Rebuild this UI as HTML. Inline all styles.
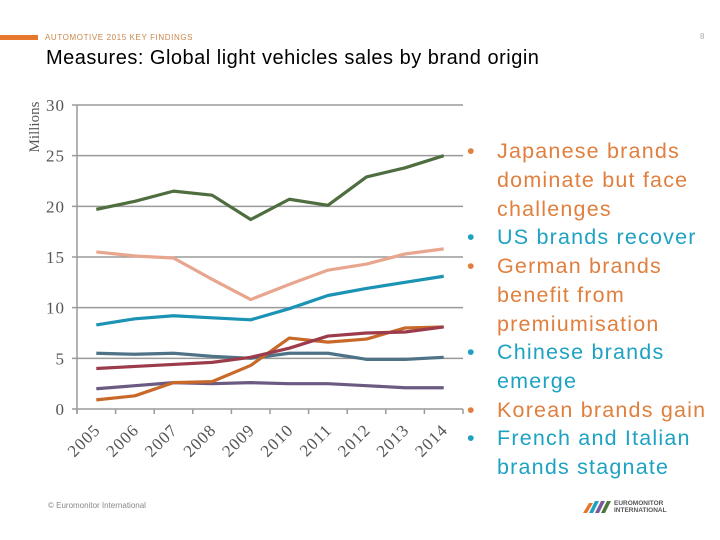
<!DOCTYPE html>
<html><head><meta charset="utf-8"><style>
body{margin:0;width:720px;height:540px;background:#fff;overflow:hidden;position:relative;font-family:"Liberation Sans",sans-serif}
.abs{position:absolute}
.bl{position:absolute;left:467px;font-size:21.5px;line-height:28.8px;white-space:nowrap;letter-spacing:1.2px}
.bl span.b{position:absolute;left:0}
.bl span.t{position:absolute;left:30px}
.o{color:#e07f3e}.c{color:#1ea2c2}
</style></head><body>
<div class="abs" style="left:0;top:35px;width:38px;height:5px;background:#e8772e"></div>
<div class="abs" style="left:45px;top:33px;font-size:8px;color:#c8874a;letter-spacing:0.6px">AUTOMOTIVE 2015 KEY FINDINGS</div>
<div class="abs" style="left:700px;top:32px;font-size:8px;color:#aaa">8</div>
<div class="abs" style="left:46px;top:47px;font-size:20px;letter-spacing:0.5px;color:#000">Measures: Global light vehicles sales by brand origin</div>
<svg class="abs" style="left:0;top:0" width="470" height="480" id="chart"></svg>
<div class="bl o" style="top:137px"><span class="b">•</span><span class="t">Japanese brands<br>dominate but face<br>challenges</span></div>
<div class="bl c" style="top:223px"><span class="b">•</span><span class="t">US brands recover</span></div>
<div class="bl o" style="top:252px"><span class="b">•</span><span class="t">German brands<br>benefit from<br>premiumisation</span></div>
<div class="bl c" style="top:338px"><span class="b">•</span><span class="t">Chinese brands<br>emerge</span></div>
<div class="bl o" style="top:396px"><span class="b">•</span><span class="t">Korean brands gain</span></div>
<div class="bl c" style="top:424px"><span class="b">•</span><span class="t">French and Italian<br>brands stagnate</span></div>
<div class="abs" style="left:48px;top:501px;font-size:8px;color:#888">© Euromonitor International</div>
<div class="abs" style="left:583px;top:500px;width:100px;height:14px">
<svg width="30" height="12" style="position:absolute;left:0;top:1px"><polygon points="0,12 6,2 10,2 4,12" fill="#e8772e"/><polygon points="6,12 12,0 16,0 10,12" fill="#1ea2c2"/><polygon points="12,12 18,0 22,0 16,12" fill="#7a5a9a"/><polygon points="18,12 24,0 28,0 22,12" fill="#4a7a3a"/></svg>
<div style="position:absolute;left:31px;top:0;font-size:6.5px;line-height:7px;color:#555;font-weight:bold">EUROMONITOR<br>INTERNATIONAL</div></div>
<script>
const years=["2005","2006","2007","2008","2009","2010","2011","2012","2013","2014"];
const yTicks=[0,5,10,15,20,25,30];
const japan=[19.7,20.5,21.5,21.1,18.7,20.7,20.1,22.9,23.8,25.0];
const germany=[15.5,15.1,14.9,12.8,10.8,12.3,13.7,14.3,15.3,15.8];
const usa=[8.3,8.9,9.2,9.0,8.8,9.9,11.2,11.9,12.5,13.1];
const france=[5.5,5.4,5.5,5.2,5.0,5.5,5.5,4.9,4.9,5.1];
const korea=[4.0,4.2,4.4,4.6,5.1,6.0,7.2,7.5,7.6,8.1];
const china=[0.9,1.3,2.6,2.7,4.3,7.0,6.6,6.9,8.0,8.1];
const other=[2.0,2.3,2.6,2.5,2.6,2.5,2.5,2.3,2.1,2.1];
const series=[[france,"#4e7386","series-french-italian"],[other,"#6b5a82","series-other"],[china,"#c8692a","series-chinese"],[korea,"#9b3b4c","series-korean"],[usa,"#1b93b4","series-us"],[germany,"#e9a68e","series-german"],[japan,"#4f6e40","series-japanese"]];
const L=77,R=463,T=105,B=409,yMax=30;
const sx=i=>L+(R-L)/years.length*(i+0.5);
const sy=v=>B-(B-T)*v/yMax;
const svg=document.getElementById('chart');const NS="http://www.w3.org/2000/svg";
function mk(t,a){const e=document.createElementNS(NS,t);for(const k in a)e.setAttribute(k,a[k]);svg.appendChild(e);return e;}
yTicks.forEach(v=>{
 const g=mk('line',{x1:L-5,x2:R,y1:sy(v),y2:sy(v),stroke:'#9a9a9a','stroke-width':1.5});
 
 
 const t=mk('text',{x:L-12,y:sy(v)+6,'text-anchor':'end','font-family':'Liberation Serif, serif','font-size':17,'letter-spacing':1,fill:'#555'});t.textContent=v;
 
 
});
const ax=mk('line',{x1:L,x2:L,y1:T,y2:B+5,stroke:'#9a9a9a','stroke-width':1.5});


for(let i=0;i<=years.length;i++){const x=L+(R-L)/years.length*i;const tk=mk('line',{x1:x,x2:x,y1:B,y2:B+5,stroke:'#9a9a9a','stroke-width':1.5});
 
 }
years.forEach((y,i)=>{const x=sx(i)+5,yy=B+22;
 const t=mk('text',{x:x,y:yy,'text-anchor':'end','font-family':'Liberation Serif, serif','font-size':17,'letter-spacing':1,fill:'#555',transform:`rotate(-45 ${x} ${yy})`});t.textContent=y;
 
 });
const yl=mk('text',{x:39,y:127,'text-anchor':'middle','font-family':'Liberation Serif, serif','font-size':15,fill:'#555',transform:'rotate(-90 39 127)'});yl.textContent='Millions';


series.forEach(([d,c,n])=>{const p=mk('polyline',{points:d.map((v,i)=>sx(i)+','+sy(v)).join(' '),fill:'none',stroke:c,'stroke-width':3.2,'stroke-linejoin':'round'});
 
 });
</script>
</body></html>
